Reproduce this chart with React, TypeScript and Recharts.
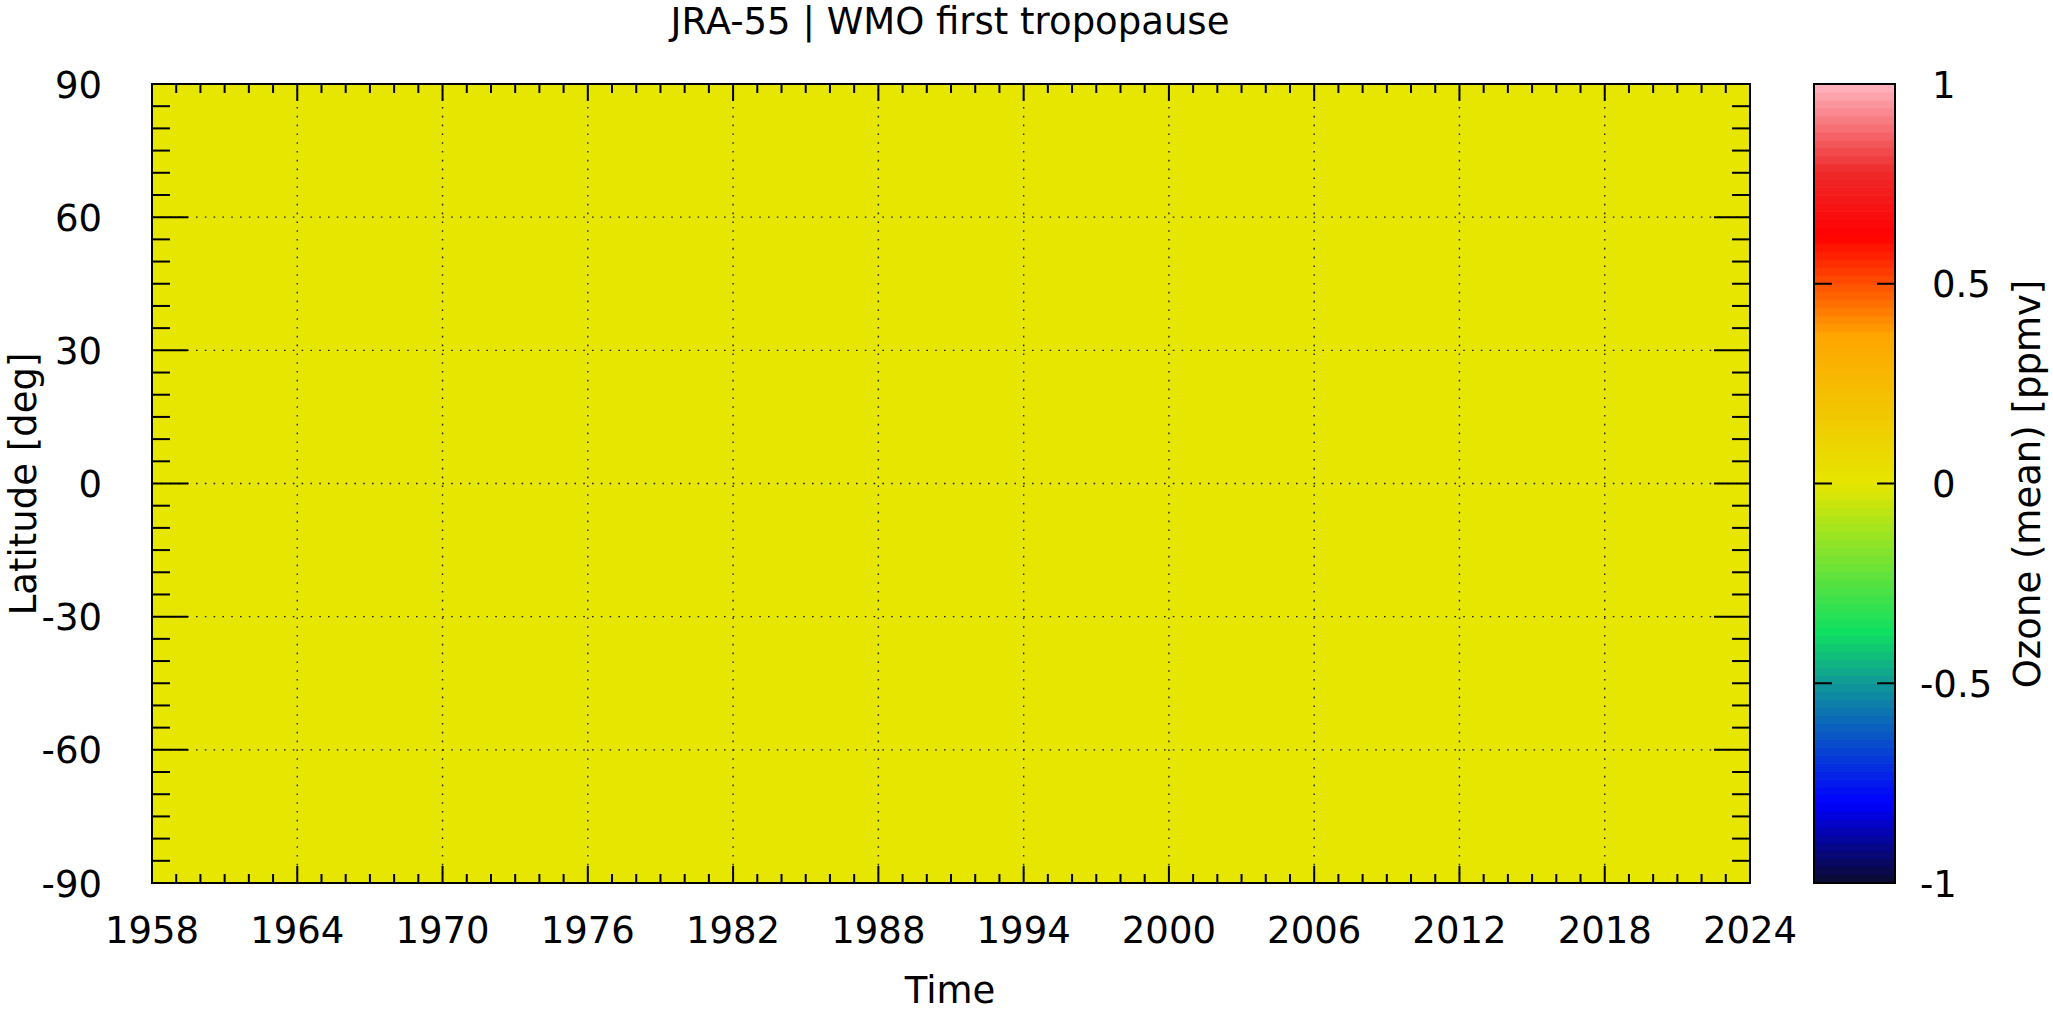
import React from 'react';
import {
  ComposedChart,
  XAxis,
  YAxis,
  Scatter,
  ReferenceArea,
  ReferenceLine,
} from 'recharts';

const W = 2053;
const H = 1012;
const PLOT = { left: 152, right: 1750, top: 84, bottom: 883 };
const CBAR = { left: 1814, right: 1895 };
const FONT = '"DejaVu Sans", Verdana, sans-serif';
const FS = 37;

// axis tick labels
const yearLabels = [1958, 1964, 1970, 1976, 1982, 1988, 1994, 2000, 2006, 2012, 2018, 2024];
const latLabels = [-90, -60, -30, 0, 30, 60, 90];
const cbarLabels = [-1, -0.5, 0, 0.5, 1];

// heatmap grid: 6-year columns x 30 deg latitude bands
const colEdges = [1958, 1964, 1970, 1976, 1982, 1988, 1994, 2000, 2006, 2012, 2018, 2024];
const bandEdges = [-90, -60, -30, 0, 30, 60, 90];

// zonal mean ozone at the WMO first tropopause [ppmv] (reads as ~0 everywhere)
const ozone90S60S = [0, 0, 0, 0, 0, 0, 0, 0, 0, 0, 0];
const ozone60S30S = [0, 0, 0, 0, 0, 0, 0, 0, 0, 0, 0];
const ozone30S0 = [0, 0, 0, 0, 0, 0, 0, 0, 0, 0, 0];
const ozone0N30N = [0, 0, 0, 0, 0, 0, 0, 0, 0, 0, 0];
const ozone30N60N = [0, 0, 0, 0, 0, 0, 0, 0, 0, 0, 0];
const ozone60N90N = [0, 0, 0, 0, 0, 0, 0, 0, 0, 0, 0];
const ozoneRows = [ozone90S60S, ozone60S30S, ozone30S0, ozone0N30N, ozone30N60N, ozone60N90N];

// colour palette (value -> colour stops)
const paletteStops = [-1, -0.8, -0.5, -0.37, 0, 0.37, 0.62, 0.78, 1];
const paletteColors = ['#0b0b2b', '#0000ff', '#109898', '#10e060', '#e6e600', '#ffa500', '#ff0000', '#ee2a2a', '#ffb6c1'];
const paletteSteps = 100;

const hex = (c: string) => [1, 3, 5].map((i) => parseInt(c.slice(i, i + 2), 16));
const palette = (v: number) => {
  const t = Math.max(-1, Math.min(1, v));
  let i = 0;
  while (i < paletteStops.length - 2 && t > paletteStops[i + 1]) i++;
  const f = (t - paletteStops[i]) / (paletteStops[i + 1] - paletteStops[i]);
  const a = hex(paletteColors[i]);
  const b = hex(paletteColors[i + 1]);
  const rgb = a.map((c, k) => Math.round(c + (b[k] - c) * f));
  return `rgb(${rgb[0]},${rgb[1]},${rgb[2]})`;
};

const cells = ozoneRows.flatMap((row, r) =>
  row.map((v, c) => ({
    x0: colEdges[c],
    x1: colEdges[c + 1],
    y0: bandEdges[r],
    y1: bandEdges[r + 1],
    x: (colEdges[c] + colEdges[c + 1]) / 2,
    y: (bandEdges[r] + bandEdges[r + 1]) / 2,
    value: v,
  }))
);

const cbarBands = Array.from({ length: paletteSteps }, (_, i) => {
  const lo = -1 + (2 * i) / paletteSteps;
  const hi = -1 + (2 * (i + 1)) / paletteSteps;
  return { lo, hi, x: 0.5, v: (lo + hi) / 2 };
});

const yearTicks: number[] = [];
for (let y = yearLabels[0]; y <= yearLabels[yearLabels.length - 1]; y++) yearTicks.push(y);
const latTicks: number[] = [];
for (let l = -90; l <= 90; l += 5) latTicks.push(l);

const renderXTick = (props: any) => {
  const { x, y, payload } = props;
  const v = payload.value;
  const major = yearLabels.includes(v);
  const len = major ? 17 : 9;
  return (
    <g>
      <line x1={x} y1={y} x2={x} y2={y - len} stroke="#000" strokeWidth={2} />
      <line x1={x} y1={PLOT.top} x2={x} y2={PLOT.top + len} stroke="#000" strokeWidth={2} />
      {major && (
        <text x={x} y={y + 60} textAnchor="middle" fontSize={FS} fontFamily={FONT} fill="#000">
          {v}
        </text>
      )}
    </g>
  );
};

const renderYTick = (props: any) => {
  const { x, y, payload } = props;
  const v = payload.value;
  const major = latLabels.includes(v);
  const len = major ? 36 : 18;
  return (
    <g>
      <line x1={x} y1={y} x2={x + len} y2={y} stroke="#000" strokeWidth={2} />
      <line x1={PLOT.right} y1={y} x2={PLOT.right - len} y2={y} stroke="#000" strokeWidth={2} />
      {major && (
        <text x={x - 50} y={y + 13.5} textAnchor="end" fontSize={FS} fontFamily={FONT} fill="#000">
          {v}
        </text>
      )}
    </g>
  );
};

const renderCbarTick = (props: any) => {
  const { x, y, payload } = props;
  const v = payload.value;
  return (
    <g>
      <line x1={x} y1={y} x2={x - 18} y2={y} stroke="#000" strokeWidth={2} />
      <line x1={CBAR.left} y1={y} x2={CBAR.left + 18} y2={y} stroke="#000" strokeWidth={2} />
      <text x={x + 25 + (v >= 0 ? 12 : 0)} y={y + 13.5} textAnchor="start" fontSize={FS} fontFamily={FONT} fill="#000">
        {String(v)}
      </text>
    </g>
  );
};

const Hidden = () => <g />;

export default function App() {
  return (
    <div style={{ position: 'absolute', left: 0, top: 0, width: W, height: H, background: '#fff', fontFamily: FONT }}>
      <div style={{ position: 'absolute', left: 0, top: 0 }}>
        <ComposedChart
          width={W}
          height={H}
          data={cells}
          margin={{ top: PLOT.top, left: PLOT.left - 1, right: W - PLOT.right, bottom: H - PLOT.bottom - 1 }}
        >
          <XAxis
            type="number"
            dataKey="x"
            domain={[1958, 2024]}
            ticks={yearTicks}
            interval={0}
            height={1}
            tickSize={0}
            tickMargin={0}
            axisLine={false}
            tick={renderXTick}
            allowDataOverflow
          />
          <YAxis
            type="number"
            dataKey="y"
            domain={[-90, 90]}
            ticks={latTicks}
            interval={0}
            width={1}
            tickSize={0}
            tickMargin={0}
            axisLine={false}
            tick={renderYTick}
            allowDataOverflow
          />
          {cells.map((c, i) => (
            <ReferenceArea
              key={`c${i}`}
              x1={c.x0}
              x2={c.x1}
              y1={c.y0}
              y2={c.y1}
              fill={palette(c.value)}
              fillOpacity={1}
              stroke={palette(c.value)}
              strokeWidth={1}
            />
          ))}
          {yearLabels.slice(1, -1).map((yr) => (
            <ReferenceLine key={`gx${yr}`} x={yr} stroke="#222" strokeWidth={1.4} strokeDasharray="1.6 7.2" />
          ))}
          {latLabels.slice(1, -1).map((lat) => (
            <ReferenceLine key={`gy${lat}`} y={lat} stroke="#222" strokeWidth={1.4} strokeDasharray="1.6 7.2" />
          ))}
          <ReferenceArea x1={1958} x2={2024} y1={-90} y2={90} fill="none" stroke="#000" strokeWidth={2} />
          <Scatter dataKey="y" shape={Hidden} isAnimationActive={false} />
        </ComposedChart>
      </div>

      <div style={{ position: 'absolute', left: 0, top: 0 }}>
        <ComposedChart
          width={W}
          height={H}
          data={cbarBands}
          margin={{ top: PLOT.top, left: CBAR.left, right: W - CBAR.right - 1, bottom: H - PLOT.bottom }}
        >
          <XAxis type="number" dataKey="x" domain={[0, 1]} hide />
          <YAxis
            type="number"
            dataKey="v"
            orientation="right"
            domain={[-1, 1]}
            ticks={cbarLabels}
            interval={0}
            width={1}
            tickSize={0}
            tickMargin={0}
            axisLine={false}
            tick={renderCbarTick}
            allowDataOverflow
          />
          {cbarBands.map((b, i) => (
            <ReferenceArea
              key={`b${i}`}
              x1={0}
              x2={1}
              y1={b.lo}
              y2={b.hi}
              fill={palette(b.v)}
              fillOpacity={1}
              stroke={palette(b.v)}
              strokeWidth={1}
            />
          ))}
          <ReferenceArea x1={0} x2={1} y1={-1} y2={1} fill="none" stroke="#000" strokeWidth={2} />
          <Scatter dataKey="v" shape={Hidden} isAnimationActive={false} />
        </ComposedChart>
      </div>

      <svg width={W} height={H} style={{ position: 'absolute', left: 0, top: 0, pointerEvents: 'none' }}>
        <text x={950} y={34} textAnchor="middle" fontSize={FS} fontFamily={FONT} fill="#000">
          JRA-55 | WMO first tropopause
        </text>
        <text x={950} y={1003} textAnchor="middle" fontSize={FS} fontFamily={FONT} fill="#000">
          Time
        </text>
        <text x={36} y={484} transform="rotate(-90 36 484)" textAnchor="middle" fontSize={FS} fontFamily={FONT} fill="#000">
          Latitude [deg]
        </text>
        <text x={2040} y={484} transform="rotate(-90 2040 484)" textAnchor="middle" fontSize={FS} fontFamily={FONT} fill="#000">
          Ozone (mean) [ppmv]
        </text>
      </svg>
    </div>
  );
}
